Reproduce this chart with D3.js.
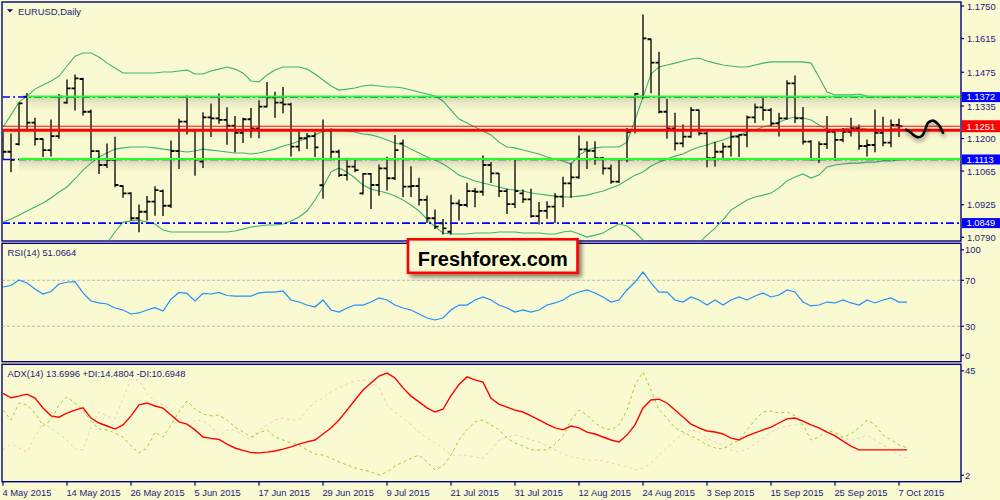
<!DOCTYPE html>
<html><head><meta charset="utf-8">
<script src="https://cdn.jsdelivr.net/npm/d3@7"></script>
<style>
html,body{margin:0;padding:0;background:#fafad2;}
svg{display:block;}
text{font-family:"Liberation Sans",Arial,sans-serif;}
</style></head><body>
<svg id="c" width="1000" height="500"></svg>
<script>
// ---------------- DATA ----------------
const symbolTitle = "EURUSD,Daily";
const rsiTitle = "RSI(14) 51.0664";
const adxTitle = "ADX(14) 13.6996 +DI:14.4804 -DI:10.6948";
const firstDay = [2015, 4, 4]; // 4 May 2015, daily bars (Mon-Fri)
const opens = [1.1194,1.1145,1.1177,1.1374,1.1266,1.1198,1.1152,1.1210,1.1349,1.1408,
1.1447,1.1311,1.1148,1.1090,1.1111,1.1003,1.0972,1.0869,1.0896,1.0938,
1.0982,1.0921,1.1148,1.1270,1.1233,1.1104,1.1288,1.1284,1.1277,1.1253,
1.1224,1.1280,1.1242,1.1332,1.1371,1.1349,1.1342,1.1166,1.1201,1.1210,
1.1006,1.1233,1.1145,1.1048,1.1083,1.0972,1.1053,1.1007,1.1076,1.1035,
1.1180,1.1000,1.1003,1.0945,1.0869,1.0848,1.0813,1.0931,1.0924,1.0982,
1.0979,1.1090,1.1055,1.0982,1.0928,1.0972,1.0947,1.0878,1.0900,1.0917,
1.0959,1.1014,1.1039,1.1155,1.1149,1.1118,1.1076,1.1021,1.1114,1.1235,
1.1374,1.1612,1.1515,1.1311,1.1242,1.1180,1.1208,1.1318,1.1221,1.1118,
1.1145,1.1166,1.1208,1.1215,1.1288,1.1329,1.1318,1.1263,1.1284,1.1429,
1.1284,1.1187,1.1114,1.1177,1.1228,1.1194,1.1228,1.1242,1.1169,1.1173,
1.1224,1.1183,1.1256];
const highs = [1.1228,1.1219,1.1346,1.1387,1.1284,1.1198,1.1277,1.1383,1.1443,1.1464,
1.1450,1.1318,1.1148,1.1177,1.1205,1.1003,1.0975,1.0924,1.0959,1.1000,
1.0986,1.1190,1.1280,1.1376,1.1235,1.1307,1.1343,1.1385,1.1328,1.1291,
1.1284,1.1325,1.1357,1.1433,1.1392,1.1412,1.1346,1.1228,1.1221,1.1224,
1.1277,1.1238,1.1152,1.1118,1.1115,1.1055,1.1055,1.1090,1.1122,1.1213,
1.1194,1.1083,1.1035,1.0961,1.0903,1.0864,1.0965,1.0945,1.1014,1.0993,
1.1127,1.1100,1.1055,1.0989,1.1111,1.0986,1.0989,1.0934,1.0938,1.0972,
1.1039,1.1097,1.1210,1.1187,1.1187,1.1122,1.1090,1.1114,1.1242,1.1387,
1.1713,1.1612,1.1558,1.1363,1.1305,1.1256,1.1329,1.1318,1.1228,1.1183,
1.1180,1.1228,1.1215,1.1293,1.1343,1.1374,1.1325,1.1305,1.1440,1.1459,
1.1329,1.1191,1.1187,1.1291,1.1228,1.1242,1.1284,1.1256,1.1194,1.1318,
1.1288,1.1277,1.1280];
const lows = [1.1114,1.1062,1.1173,1.1235,1.1173,1.1125,1.1127,1.1201,1.1346,1.1318,
1.1298,1.1111,1.1055,1.1080,1.1000,1.0956,1.0862,1.0813,1.0862,1.0882,
1.0880,1.0914,1.1076,1.1219,1.1048,1.1080,1.1208,1.1263,1.1176,1.1145,
1.1183,1.1205,1.1203,1.1332,1.1288,1.1307,1.1127,1.1149,1.1159,1.1125,
1.0952,1.1111,1.1042,1.1028,1.1062,1.0970,1.0910,1.0965,1.0986,1.1030,
1.0959,1.0959,1.0924,1.0851,1.0827,1.0804,1.0804,1.0862,1.0917,1.0917,
1.0965,1.1017,1.0959,1.0889,1.0914,1.0934,1.0873,1.0845,1.0869,1.0851,
1.0917,1.0956,1.1035,1.1076,1.1093,1.1053,1.1014,1.1017,1.1104,1.1224,
1.1367,1.1390,1.1307,1.1201,1.1152,1.1166,1.1205,1.1215,1.1083,1.1086,
1.1118,1.1127,1.1125,1.1166,1.1266,1.1277,1.1252,1.1210,1.1280,1.1266,
1.1177,1.1111,1.1100,1.1159,1.1111,1.1187,1.1210,1.1155,1.1127,1.1145,
1.1170,1.1166,1.1208];
const closes = [1.1145,1.1111,1.1346,1.1266,1.1198,1.1152,1.1210,1.1374,1.1408,1.1450,
1.1311,1.1148,1.1090,1.1111,1.1007,1.0972,1.0869,1.0896,1.0938,1.0986,
1.0921,1.1148,1.1270,1.1233,1.1114,1.1288,1.1284,1.1277,1.1253,1.1224,
1.1280,1.1242,1.1332,1.1371,1.1349,1.1342,1.1166,1.1201,1.1210,1.1163,
1.1233,1.1145,1.1048,1.1083,1.1069,1.1053,1.1007,1.1076,1.1035,1.1152,
1.1000,1.1003,1.0945,1.0869,1.0834,1.0827,1.0931,1.0924,1.0982,1.0979,
1.1090,1.1055,1.0982,1.0928,1.0982,1.0947,1.0878,1.0900,1.0917,1.0959,
1.1014,1.1039,1.1155,1.1149,1.1118,1.1076,1.1021,1.1114,1.1228,1.1385,
1.1616,1.1515,1.1311,1.1242,1.1180,1.1208,1.1318,1.1221,1.1118,1.1145,
1.1166,1.1208,1.1215,1.1288,1.1329,1.1318,1.1263,1.1284,1.1429,1.1284,
1.1187,1.1114,1.1177,1.1228,1.1194,1.1228,1.1242,1.1169,1.1173,1.1224,
1.1183,1.1256,1.1251];
const bbUpper = [1.1248,1.1298,1.1351,1.1376,1.1405,1.1422,1.1439,1.1459,1.1501,1.1542,
1.1555,1.1555,1.1538,1.1513,1.1493,1.1472,1.1472,1.1472,1.1472,1.1472,
1.1476,1.1476,1.1480,1.1484,1.1468,1.1468,1.1480,1.1488,1.1497,1.1488,
1.1472,1.1439,1.1435,1.1464,1.1484,1.1497,1.1497,1.1497,1.1488,1.1468,
1.1443,1.1418,1.1401,1.1405,1.1410,1.1418,1.1422,1.1418,1.1414,1.1414,
1.1410,1.1401,1.1393,1.1385,1.1376,1.1356,1.1318,1.1281,1.1264,1.1248,
1.1231,1.1215,1.1185,1.1165,1.1161,1.1152,1.1144,1.1136,1.1123,1.1115,
1.1107,1.1094,1.1131,1.1152,1.1161,1.1165,1.1165,1.1165,1.1185,1.1277,
1.1372,1.1468,1.1497,1.1505,1.1513,1.1522,1.1530,1.1534,1.1522,1.1513,
1.1505,1.1501,1.1497,1.1497,1.1505,1.1513,1.1518,1.1518,1.1518,1.1518,
1.1518,1.1513,1.1455,1.1393,1.1381,1.1381,1.1381,1.1385,1.1376,1.1372,
1.1372,1.1372,1.1372];
const bbMiddle = [1.0853,1.0866,1.0882,1.0899,1.0916,1.0932,1.0953,1.0978,1.0999,1.1032,
1.1069,1.1098,1.1123,1.1140,1.1156,1.1161,1.1165,1.1165,1.1165,1.1161,
1.1156,1.1152,1.1148,1.1144,1.1148,1.1156,1.1152,1.1148,1.1144,1.1140,
1.1140,1.1136,1.1140,1.1148,1.1156,1.1169,1.1177,1.1190,1.1202,1.1215,
1.1231,1.1239,1.1235,1.1231,1.1227,1.1219,1.1215,1.1206,1.1194,1.1181,
1.1173,1.1156,1.1140,1.1123,1.1111,1.1094,1.1073,1.1048,1.1036,1.1024,
1.1015,1.1007,1.0999,1.0990,1.0986,1.0982,1.0974,1.0970,1.0965,1.0961,
1.0957,1.0957,1.0961,1.0965,1.0974,1.0982,1.0995,1.1007,1.1028,1.1048,
1.1061,1.1086,1.1102,1.1115,1.1127,1.1136,1.1152,1.1165,1.1173,1.1185,
1.1194,1.1206,1.1215,1.1227,1.1235,1.1248,1.1256,1.1268,1.1281,1.1289,
1.1285,1.1277,1.1256,1.1239,1.1235,1.1239,1.1244,1.1244,1.1239,1.1239,
1.1235,1.1239,1.1244];
const bbLower = [1.0459,1.0434,1.0413,1.0422,1.0426,1.0442,1.0467,1.0496,1.0496,1.0521,
1.0584,1.0642,1.0708,1.0766,1.0812,1.0853,1.0858,1.0862,1.0853,1.0845,
1.0820,1.0812,1.0812,1.0812,1.0812,1.0812,1.0812,1.0812,1.0812,1.0816,
1.0824,1.0833,1.0837,1.0841,1.0841,1.0845,1.0858,1.0874,1.0899,1.0945,
1.0999,1.1061,1.1078,1.1061,1.1036,1.1007,1.0990,1.0982,1.0974,1.0961,
1.0945,1.0924,1.0899,1.0866,1.0833,1.0808,1.0804,1.0804,1.0804,1.0808,
1.0808,1.0808,1.0812,1.0812,1.0812,1.0808,1.0808,1.0808,1.0804,1.0804,
1.0812,1.0816,1.0804,1.0791,1.0799,1.0808,1.0828,1.0845,1.0837,1.0812,
1.0779,1.0745,1.0716,1.0696,1.0687,1.0704,1.0737,1.0766,1.0799,1.0828,
1.0862,1.0903,1.0924,1.0945,1.0957,1.0965,1.0974,1.0995,1.1024,1.1040,
1.1053,1.1036,1.1048,1.1082,1.1090,1.1094,1.1098,1.1098,1.1102,1.1102,
1.1107,1.1107,1.1111];
const rsi = [64.2,65.5,70.3,67.7,62.4,58.1,60.3,66.8,68.3,68.8,
59.0,52.0,50.3,49.4,45.9,44.2,40.7,41.6,44.2,46.2,
43.3,53.7,59.4,58.7,52.0,58.7,58.1,59.4,56.8,56.3,
56.3,56.3,59.0,59.8,59.8,60.7,52.9,51.1,48.5,46.8,
52.9,44.2,42.4,45.9,48.5,48.5,51.1,54.6,52.9,48.5,
45.9,44.2,40.7,37.2,35.5,37.2,44.2,48.5,48.5,52.9,
55.5,52.9,48.5,45.9,42.4,44.2,42.4,44.2,48.5,50.3,
52.9,57.2,59.8,61.6,59.0,55.5,51.1,52.9,61.6,68.5,
77.2,67.7,59.8,59.8,52.9,51.1,55.5,52.9,48.5,52.9,
48.5,52.9,55.5,52.9,56.3,59.0,55.5,57.2,61.6,59.8,
51.1,47.7,48.5,51.1,50.3,52.9,50.3,48.5,52.9,50.3,
52.9,54.6,51.1,51.07];
const adx = [34.3,32.7,33.3,34.0,32.6,29.0,26.1,25.6,27.1,28.2,
29.0,25.3,23.5,22.4,21.3,22.8,26.1,30.1,30.8,29.7,
28.9,26.4,23.9,23.1,21.0,18.4,17.9,17.5,15.8,14.4,
13.5,12.7,12.6,12.9,13.3,14.0,14.8,15.8,16.6,17.3,
19.5,21.7,24.6,28.2,31.9,35.5,38.1,40.6,41.7,39.9,
36.3,33.3,31.2,29.0,27.5,28.5,33.5,37.5,40.3,39.2,
38.4,32.5,30.4,29.3,28.2,27.5,26.1,24.6,23.1,21.7,
21.0,22.4,21.7,20.2,19.5,18.4,17.3,16.6,19.1,22.8,
29.0,31.9,32.2,30.8,28.2,25.7,23.1,21.7,20.6,20.2,
19.5,18.0,17.3,18.8,19.9,21.0,22.0,23.5,25.0,25.3,
24.2,22.8,21.7,20.2,18.8,16.9,15.1,13.7,13.7,13.7,
13.7,13.7,13.7,13.7];
const plusDI = [28.2,24.6,30.8,30.1,27.1,22.4,24.6,30.1,33.0,30.8,
28.2,24.2,21.3,21.0,19.9,18.4,15.1,12.6,14.4,20.2,
18.4,22.8,27.5,31.5,28.6,26.8,26.1,26.4,24.6,22.0,
20.2,18.4,19.9,21.0,18.4,17.3,16.2,15.5,13.7,12.2,
11.8,10.7,9.3,8.2,7.1,6.4,5.6,4.6,5.6,7.8,
9.3,10.7,11.8,9.3,6.4,7.8,11.8,17.3,21.0,23.9,
24.6,22.8,21.0,18.0,16.2,15.1,13.7,13.7,13.7,15.8,
18.8,24.6,28.2,26.4,23.5,21.7,21.0,22.8,28.2,37.3,
42.1,35.5,28.2,25.3,21.7,20.2,18.8,17.3,15.5,14.4,
14.0,15.8,17.3,21.0,24.6,27.5,27.9,27.1,27.5,26.1,
22.8,17.3,18.4,21.0,19.9,18.4,19.5,21.7,24.6,22.8,
19.1,17.3,15.5,14.5];
const minusDI = [13.7,15.8,14.4,12.9,18.4,23.5,21.7,19.5,17.3,14.0,
13.7,22.0,27.5,26.1,25.0,32.6,39.2,39.2,34.4,31.2,
30.1,28.2,25.7,21.0,24.6,24.2,22.4,18.8,21.0,21.0,
18.8,17.3,21.0,22.8,24.6,25.3,24.6,24.6,28.2,31.2,
32.6,34.8,36.3,37.7,38.8,39.2,38.4,36.6,30.1,27.5,
25.3,22.8,20.2,18.0,16.2,14.4,11.8,11.8,11.8,11.1,
10.7,13.7,17.3,18.4,19.1,18.4,17.3,16.6,15.1,13.7,
12.2,11.1,10.7,10.0,10.0,9.7,8.9,8.2,7.5,6.4,
7.1,8.9,11.8,14.4,17.3,19.5,21.0,20.2,18.0,16.6,
15.1,13.7,12.9,14.0,15.8,18.0,20.2,21.7,22.4,22.8,
22.8,22.8,21.7,20.2,19.1,18.0,17.3,18.0,19.1,17.3,
15.5,13.7,11.8,10.7];
const priceTicks = [1.1750,1.1615,1.1475,1.1335,1.1200,1.1065,1.0925,1.0790];
const rsiTicks = [100,70,30,0];
const rsiLevels = [70,30];
const adxTicks = [45,2];
const levelLines = [1.1372,1.1113,1.0849];            // blue dash-dot
const levelLabelColors = ["#0000ff","#0000ff","#0000ff"];
const greenLevels = [1.1374,1.1115];                  // drawn annotation lines
const greenStartBar = [3,2];
const currentPrice = 1.1251;
const redLevel = 1.1234;
const forecastBar = [112.9,113.4,113.9,114.4,114.9,115.25,115.6,116.0,116.4,116.75,117.1,117.5];
const forecastPrice = [1.1237,1.1227,1.1212,1.1205,1.1212,1.1235,1.1264,1.1273,1.1273,1.1264,1.1250,1.1224];
const watermark = "Freshforex.com";

// ---------------- CHART ----------------
const bg = "#fafad2", navy = "#000080", txt = "#1a1a78";
const L = 2, R = 961;
const P = {main:[2,241], rsi:[243.3,361.7], adx:[364.3,481.7]};
const svg = d3.select("#c");
svg.append("rect").attr("width",1000).attr("height",500).attr("fill",bg);

const n = opens.length;
const x = d3.scaleLinear().domain([0, n-1]).range([3, 899]);
const yP = d3.scaleLinear().domain([1.0790,1.1750]).range([237.3,6]);
const yR = d3.scaleLinear().domain([0,100]).range([360.8,245.8]);
const yA = d3.scaleLinear().domain([2,45]).range([482,364]);

const defs = svg.append("defs");
Object.entries(P).forEach(([k,[t,b]])=>{
  defs.append("clipPath").attr("id","clip-"+k).append("rect")
    .attr("x",L+0.75).attr("y",t+0.75).attr("width",R-L-1.5).attr("height",b-t-1.5);
});
const sg = defs.append("linearGradient").attr("id","shade").attr("x1",0).attr("y1",0).attr("x2",0).attr("y2",1);
sg.append("stop").attr("offset","0%").attr("stop-color","#5a5a40").attr("stop-opacity",0.24);
sg.append("stop").attr("offset","40%").attr("stop-color","#5a5a40").attr("stop-opacity",0.10);
sg.append("stop").attr("offset","100%").attr("stop-color","#5a5a40").attr("stop-opacity",0);
const f1 = defs.append("filter").attr("id","soft").attr("x","-20%").attr("y","-50%").attr("width","140%").attr("height","200%");
f1.append("feGaussianBlur").attr("in","SourceAlpha").attr("stdDeviation",2.2).attr("result","b");
f1.append("feOffset").attr("in","b").attr("dx",1).attr("dy",3).attr("result","o");
f1.append("feComponentTransfer").attr("in","o").attr("result","s").append("feFuncA").attr("type","linear").attr("slope",0.45);
const m1 = f1.append("feMerge"); m1.append("feMergeNode").attr("in","s"); m1.append("feMergeNode").attr("in","SourceGraphic");
const f2 = defs.append("filter").attr("id","boxsh").attr("x","-10%").attr("y","-30%").attr("width","125%").attr("height","170%");
f2.append("feGaussianBlur").attr("in","SourceAlpha").attr("stdDeviation",2).attr("result","b");
f2.append("feOffset").attr("in","b").attr("dx",3).attr("dy",3).attr("result","o");
f2.append("feComponentTransfer").attr("in","o").attr("result","s").append("feFuncA").attr("type","linear").attr("slope",0.5);
const m2 = f2.append("feMerge"); m2.append("feMergeNode").attr("in","s"); m2.append("feMergeNode").attr("in","SourceGraphic");

// panel frames
Object.values(P).forEach(([t,b])=>{
  svg.append("rect").attr("x",L).attr("y",t).attr("width",R-L).attr("height",b-t)
    .attr("fill",bg).attr("stroke",navy).attr("stroke-width",1.4);
});

// ---- main panel ----
const gm = svg.append("g").attr("clip-path","url(#clip-main)");
const idx = d3.range(n);
const bandLine = arr => d3.line().x(i=>x(i)).y(i=>yP(arr[i]))(idx);
[bbUpper,bbMiddle,bbLower].forEach(a=>{
  gm.append("path").attr("d",bandLine(a)).attr("fill","none").attr("stroke","#3cb371").attr("stroke-width",1.1);
});
// bars
const bars = idx.map(i=>({i,o:opens[i],h:highs[i],l:lows[i],c:closes[i]}));
const gb = gm.append("g").attr("stroke","#000");
gb.selectAll(".hl").data(bars).join("line").attr("class","hl")
  .attr("x1",d=>x(d.i)).attr("x2",d=>x(d.i)).attr("y1",d=>yP(d.h)-0.5).attr("y2",d=>yP(d.l)+0.5).attr("stroke-width",1.3);
gb.selectAll(".op").data(bars).join("line").attr("class","op")
  .attr("x1",d=>x(d.i)-3.5).attr("x2",d=>x(d.i)).attr("y1",d=>yP(d.o)).attr("y2",d=>yP(d.o)).attr("stroke-width",1.8);
gb.selectAll(".cl").data(bars).join("line").attr("class","cl")
  .attr("x1",d=>x(d.i)).attr("x2",d=>x(d.i)+3.5).attr("y1",d=>yP(d.c)).attr("y2",d=>yP(d.c)).attr("stroke-width",1.8);

// shadows under annotation lines
greenLevels.forEach((v,k)=>{
  gm.append("rect").attr("x",x(greenStartBar[k])).attr("y",yP(v)+1).attr("width",R-x(greenStartBar[k])).attr("height",13).attr("fill","url(#shade)");
});
gm.append("rect").attr("x",L).attr("y",yP(redLevel)+1.5).attr("width",R-L).attr("height",8).attr("fill","url(#shade)").attr("opacity",0.6);
// blue dash-dot levels
levelLines.forEach(v=>{
  gm.append("line").attr("x1",L).attr("x2",R).attr("y1",yP(v)).attr("y2",yP(v))
    .attr("stroke","#0000ff").attr("stroke-width",1.6).attr("stroke-dasharray","8,3,2,3");
});
// green annotation lines
greenLevels.forEach((v,k)=>{
  gm.append("line").attr("x1",x(greenStartBar[k])).attr("x2",R).attr("y1",yP(v)).attr("y2",yP(v))
    .attr("stroke","#22ff22").attr("stroke-width",2);
});
// red lines
gm.append("line").attr("x1",L).attr("x2",R).attr("y1",yP(currentPrice)).attr("y2",yP(currentPrice)).attr("stroke","#ff0000").attr("stroke-width",1);
gm.append("line").attr("x1",L).attr("x2",R).attr("y1",yP(redLevel)).attr("y2",yP(redLevel)).attr("stroke","#ff0000").attr("stroke-width",3);
// forecast curve
gm.append("path").attr("d",d3.line().curve(d3.curveCatmullRom).x(i=>x(forecastBar[i])).y(i=>yP(forecastPrice[i]))(d3.range(forecastBar.length)))
  .attr("fill","none").attr("stroke","#000").attr("stroke-width",2.6).attr("stroke-linecap","round").attr("stroke-linejoin","round").attr("filter","url(#soft)");

// title
svg.append("path").attr("d","M7,9.2 L13,9.2 L10,12.6 Z").attr("fill",navy);
svg.append("text").attr("x",18).attr("y",14.6).attr("font-size",9.4).attr("fill",txt).text(symbolTitle);

// price axis
const ax = svg.append("g").attr("font-size",9.4);
priceTicks.forEach(v=>{
  ax.append("line").attr("x1",R).attr("x2",R+3).attr("y1",yP(v)).attr("y2",yP(v)).attr("stroke",navy).attr("stroke-width",1.2);
  ax.append("text").attr("x",967).attr("y",yP(v)+3.6).attr("fill",txt).text(v.toFixed(4));
});
const boxLabels = levelLines.map((v,k)=>({v,c:levelLabelColors[k]})).concat([{v:currentPrice,c:"#ff0000"}]);
boxLabels.forEach(d=>{
  const yy = yP(d.v);
  const hh = d.c==="#ff0000" ? 12 : 10;
  ax.append("rect").attr("x",R+1).attr("y",yy-hh/2).attr("width",1000-R-1).attr("height",hh).attr("fill",d.c);
  ax.append("text").attr("x",966.5).attr("y",yy+3.3).attr("fill","#fff").text(d.v.toFixed(4));
});

// ---- RSI panel ----
const gr = svg.append("g").attr("clip-path","url(#clip-rsi)");
rsiLevels.forEach(v=>{
  gr.append("line").attr("x1",L).attr("x2",R).attr("y1",yR(v)).attr("y2",yR(v))
    .attr("stroke","#b8b8b8").attr("stroke-width",1).attr("stroke-dasharray","3,2");
});
gr.append("path").attr("d",d3.line().x((d,i)=>x(i)).y(d=>yR(d))(rsi))
  .attr("fill","none").attr("stroke","#1e90ff").attr("stroke-width",1.2);
svg.append("text").attr("x",7.5).attr("y",255.5).attr("font-size",9.4).attr("fill",txt).text(rsiTitle);
const clampY = (y,[t,b]) => Math.max(t+6.5, Math.min(b-6.5, y));
rsiTicks.forEach(v=>{
  const yy = clampY(yR(v),P.rsi);
  ax.append("line").attr("x1",R).attr("x2",R+3).attr("y1",yy).attr("y2",yy).attr("stroke",navy).attr("stroke-width",1.2);
  ax.append("text").attr("x",965).attr("y",yy+3.4).attr("fill",txt).text(v);
});

// ---- ADX panel ----
const ga = svg.append("g").attr("clip-path","url(#clip-adx)");
const aLine = d3.line().x((d,i)=>x(i)).y(d=>yA(d));
ga.append("path").attr("d",aLine(minusDI)).attr("fill","none").attr("stroke","#f6c9b4").attr("stroke-width",1).attr("stroke-dasharray","3,3");
ga.append("path").attr("d",aLine(plusDI)).attr("fill","none").attr("stroke","#9acd32").attr("stroke-width",1).attr("stroke-dasharray","3,3");
ga.append("path").attr("d",aLine(adx)).attr("fill","none").attr("stroke","#ff0000").attr("stroke-width",1.4);
svg.append("text").attr("x",7.5).attr("y",377).attr("font-size",9.4).attr("fill",txt).text(adxTitle);
adxTicks.forEach(v=>{
  const yy = clampY(yA(v),P.adx);
  ax.append("line").attr("x1",R).attr("x2",R+3).attr("y1",yy).attr("y2",yy).attr("stroke",navy).attr("stroke-width",1.2);
  ax.append("text").attr("x",965).attr("y",yy+3.4).attr("fill",txt).text(v);
});

// ---- time axis ----
const dates = [];
{ const d = new Date(firstDay[0],firstDay[1],firstDay[2]);
  while (dates.length < n) { const w=d.getDay(); if (w!==0 && w!==6) dates.push(new Date(d)); d.setDate(d.getDate()+1); } }
const fmt = d3.timeFormat("%-d %b %Y");
const tickIdx = idx.filter(i=>i%8===0);
tickIdx.forEach(i=>{
  ax.append("line").attr("x1",x(i)).attr("x2",x(i)).attr("y1",P.adx[1]).attr("y2",P.adx[1]+4).attr("stroke",navy).attr("stroke-width",1.2);
  ax.append("text").attr("x",x(i)-0.6).attr("y",495.5).attr("fill",txt).text(fmt(dates[i]));
});

// ---- watermark box ----
const wm = svg.append("g").attr("filter","url(#boxsh)");
wm.append("rect").attr("x",408).attr("y",239.3).attr("width",169.5).attr("height",33.5)
  .attr("fill","#fbfbd3").attr("stroke","#ff0000").attr("stroke-width",2.6);
svg.append("text").attr("x",492.8).attr("y",265.8).attr("text-anchor","middle")
  .attr("font-size",20).attr("font-weight","bold").attr("fill","#000").text(watermark);
</script>
</body></html>
